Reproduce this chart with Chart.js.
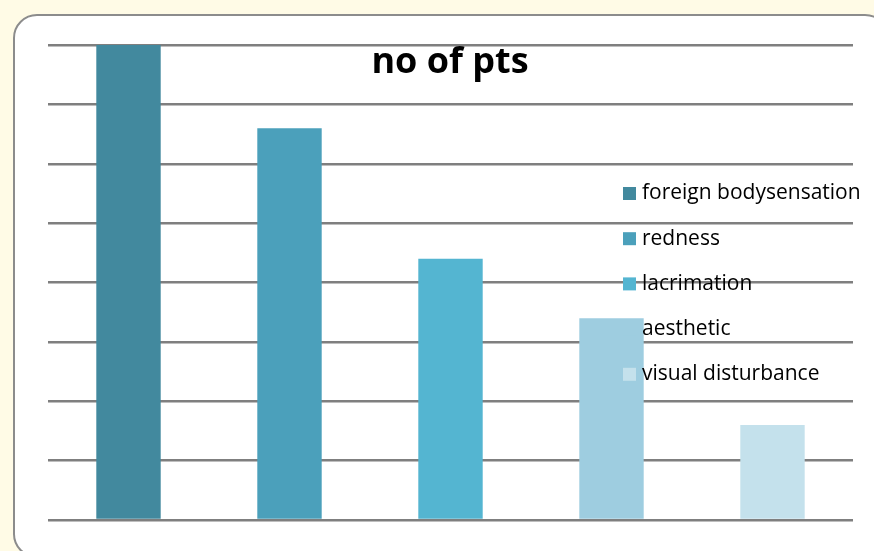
<!DOCTYPE html>
<html>
<head>
<meta charset="utf-8">
<script src="https://cdn.jsdelivr.net/npm/chart.js@4"></script>
<style>
  html, body { margin: 0; padding: 0; background: #fffbe6; overflow: hidden; }
  #frame {
    position: absolute; left: 13px; top: 14px; width: 872px; height: 540px;
    background: #fff; border: 2px solid #8c8c8c; border-radius: 24px;
  }
  #chart { position: absolute; left: 0; top: 0; }
</style>
</head>
<body>
<div id="frame"></div>
<canvas id="chart" width="874" height="551"></canvas>
<script>
// data
var categories = ["foreign bodysensation", "redness", "lacrimation", "aesthetic", "visual disturbance"];
var noOfPts = [40, 33, 22, 17, 8];
var yTicks = { min: 0, max: 40, step: 5 };

var barColors = ["#42899e", "#4ba0bb", "#54b5d1", "#9ecde0", "#c4e1ec"];

// title drawn over the plot, like the original
var overlayTitle = {
  id: 'overlayTitle',
  afterDraw: function(chart) {
    var ctx = chart.ctx;
    ctx.save();
    ctx.font = "bold 36px 'Open Sans'";
    ctx.fillStyle = "#000";
    ctx.textAlign = "center";
    ctx.textBaseline = "middle";
    ctx.fillText("no of pts", 450, 63);
    ctx.restore();
  }
};

// legend on the right, over the plot
var overlayLegend = {
  id: 'overlayLegend',
  afterDraw: function(chart) {
    var ctx = chart.ctx;
    var labels = chart.data.labels;
    var colors = chart.data.datasets[0].backgroundColor;
    ctx.save();
    ctx.font = "21px 'Open Sans'";
    ctx.textBaseline = "middle";
    for (var i = 0; i < labels.length; i++) {
      var y = 193.5 + i * 45.2;
      ctx.fillStyle = colors[i];
      ctx.fillRect(623, y - 6.5, 13, 13);
      ctx.fillStyle = "#000";
      ctx.fillText(labels[i], 642, y);
    }
    ctx.restore();
  }
};

new Chart(document.getElementById("chart"), {
  type: 'bar',
  data: {
    labels: categories,
    datasets: [{
      label: "no of pts",
      data: noOfPts,
      backgroundColor: barColors,
      barPercentage: 0.4,
      categoryPercentage: 1.0
    }]
  },
  options: {
    responsive: false,
    animation: false,
    layout: { padding: { left: 48, right: 21, top: 45, bottom: 31 } },
    plugins: {
      legend: { display: false },
      title: { display: false },
      tooltip: { enabled: false }
    },
    scales: {
      x: { display: false },
      y: {
        min: yTicks.min,
        max: yTicks.max,
        ticks: { display: false, stepSize: yTicks.step },
        grid: { color: "#7f7f7f", lineWidth: 2.5, drawTicks: false },
        border: { display: false }
      }
    }
  },
  plugins: [overlayTitle, overlayLegend]
});
</script>
</body>
</html>
